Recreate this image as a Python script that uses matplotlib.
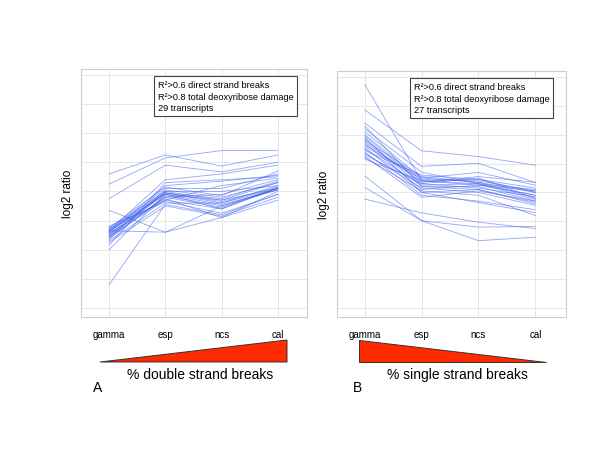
import matplotlib
matplotlib.use("Agg")
import matplotlib.pyplot as plt
from matplotlib.patches import Polygon

plt.rcParams['font.family'] = ['Liberation Sans', 'DejaVu Sans']

categories = ["gamma", "esp", "ncs", "cal"]

panel_a = [
    [0.6, 1.25, 0.87, 1.25],
    [0.25, 1.15, 1.4, 1.4],
    [-0.25, 0.9, 0.67, 1.0],
    [-0.65, -1.4, -0.9, -0.3],
    [-1.35, -1.4, -0.5, 0.1],
    [-3.2, -0.45, -0.8, -0.1],
    [-2.0, -0.1, -0.3, 0.3],
    [-1.25, 0.0, 0.0, 0.2],
    [-1.3, -0.05, -0.4, 0.1],
    [-1.35, 0.4, 0.6, 0.9],
    [-1.4, 0.2, 0.35, 0.55],
    [-1.45, -0.1, -0.45, 0.05],
    [-1.5, -0.2, -0.1, 0.4],
    [-1.3, -0.3, -0.6, 0.1],
    [-1.55, -0.05, -0.35, 0.15],
    [-1.6, 0.05, -0.2, 0.3],
    [-1.2, -0.35, -0.75, -0.1],
    [-1.65, -0.15, -0.5, 0.05],
    [-1.4, 0.1, 0.1, 0.6],
    [-1.45, -0.25, -0.9, 0.0],
    [-1.7, -0.4, -0.4, 0.2],
    [-1.5, 0.0, -0.3, 0.1],
    [-1.35, -0.1, -0.6, 0.15],
    [-1.55, -0.3, 0.2, 0.45],
    [-1.25, 0.15, -0.15, 0.7],
    [-1.75, -0.5, -0.85, -0.2],
    [-1.6, -0.2, -0.55, 0.1],
    [-1.4, -0.05, -0.25, 0.35],
    [-1.85, 0.3, 0.4, 0.5],
]

panel_b = [
    [3.73, 0.4, 0.3, -0.1],
    [2.85, 1.44, 1.24, 0.94],
    [2.4, 0.9, 1.01, 0.34],
    [2.2, 0.7, 0.3, 0.1],
    [2.1, 0.5, 0.69, 0.25],
    [2.0, 0.4, 0.45, 0.0],
    [1.95, 0.3, 0.5, -0.2],
    [1.85, 0.2, 0.2, -0.3],
    [1.8, 0.55, 0.35, 0.0],
    [1.75, 0.35, 0.55, 0.35],
    [1.7, 0.1, 0.25, -0.1],
    [1.6, 0.45, 0.4, 0.05],
    [1.55, 0.0, 0.1, -0.4],
    [1.5, 0.25, 0.3, -0.25],
    [1.45, 0.6, 0.45, 0.15],
    [1.4, -0.1, -0.3, -0.6],
    [1.35, 0.15, 0.0, -0.45],
    [1.3, 0.3, 0.15, -0.15],
    [1.25, -0.17, 0.05, -0.3],
    [1.2, 0.05, -0.1, -0.8],
    [1.15, 0.4, 0.25, 0.05],
    [2.3, 0.2, 0.1, -0.35],
    [0.57, -0.98, -1.2, -1.18],
    [0.17, -0.98, -1.67, -1.55],
    [-0.23, -0.71, -1.03, -1.25],
    [1.9, 0.0, -0.35, -0.7],
    [1.65, 0.5, 0.35, -0.2],
]

box_a = "R\u00b2>0.6 direct strand breaks\nR\u00b2>0.8 total deoxyribose damage\n29 transcripts"
box_b = "R\u00b2>0.6 direct strand breaks\nR\u00b2>0.8 total deoxyribose damage\n27 transcripts"

W, H = 600, 464
fig = plt.figure(figsize=(6, 4.64), dpi=100)


def rect(l, t, r, b):
    return [l / W, 1 - b / H, (r - l) / W, (b - t) / H]


def panel(pos, data, text, xlim, tx):
    ax = fig.add_axes(pos)
    x = list(range(len(categories)))
    for row in data:
        ax.plot(x, row, color='#3a5cf0', lw=0.6, alpha=0.55, zorder=3)
    ax.set_xlim(*xlim)
    ax.set_ylim(-4.31, 4.2)
    ax.set_yticks(range(-4, 5))
    ax.set_yticklabels([])
    ax.set_xticks(x)
    ax.set_xticklabels(categories, fontsize=7)
    ax.tick_params(length=0, pad=9)
    ax.tick_params(axis='y', pad=0)
    ax.grid(True, color='#e6e6e6', lw=0.7)
    ax.set_axisbelow(True)
    for s in ax.spines.values():
        s.set_color('#cccccc')
        s.set_linewidth(0.8)
    ax.set_ylabel("log2 ratio", fontsize=8.5, labelpad=5)
    ax.text(tx, 0.955, text, transform=ax.transAxes, fontsize=6.6, va='top', ha='left',
            linespacing=1.35,
            bbox=dict(boxstyle='square,pad=0.4', fc='white', ec='#444444', lw=0.8), zorder=5)
    return ax


ax_a = panel(rect(81, 70, 307, 318), panel_a, box_a, (-0.5, 3.52), 0.34)
ax_b = panel(rect(337, 72, 566, 318), panel_b, box_b, (-0.49, 3.54), 0.335)

ov = fig.add_axes([0, 0, 1, 1])
ov.set_xlim(0, W)
ov.set_ylim(H, 0)
ov.axis('off')
ov.add_patch(Polygon([(100, 363), (287, 341), (287, 363)], closed=True,
                     fc='#ff2a00', ec='#333333', lw=0.7))
ov.add_patch(Polygon([(359, 341), (359, 363), (546, 363)], closed=True,
                     fc='#ff2a00', ec='#333333', lw=0.7))
ov.text(200, 375, "% double strand breaks", fontsize=10, ha='center', va='center')
ov.text(457, 375, "% single strand breaks", fontsize=10, ha='center', va='center')
ov.text(98, 388, "A", fontsize=10, ha='center', va='center')
ov.text(358, 388, "B", fontsize=10, ha='center', va='center')

fig.savefig("out.png", dpi=100)
